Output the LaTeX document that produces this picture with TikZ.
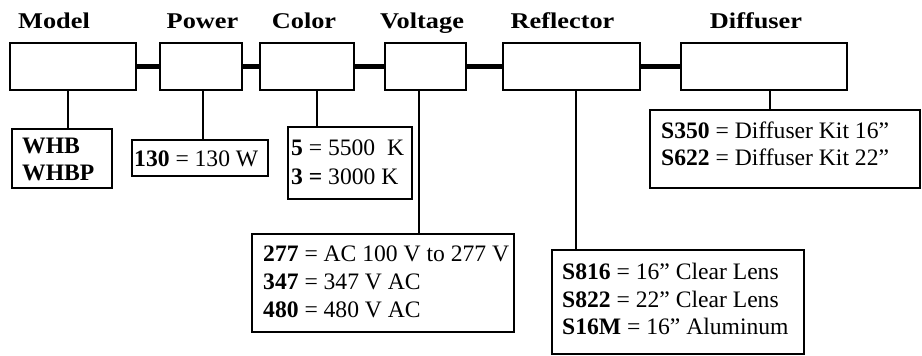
\documentclass[tikz,border=0pt]{standalone}
\usepackage{fontspec}
\usepackage{graphicx}
\setmainfont{Liberation Serif}
\begin{document}
\begin{tikzpicture}[x=1pt,y=-1pt,
  hdr/.style={anchor=base, inner sep=0pt, font=\fontsize{22.5}{26}\selectfont\bfseries},
  slot/.style={draw, line width=1.9pt, anchor=north west, inner sep=0pt, outer sep=0pt},
  codebox/.style={draw, line width=1.9pt, anchor=north west, inner sep=0pt, outer sep=0pt},
  codetxt/.style={anchor=base west, inner sep=0pt, font=\fontsize{23.6}{27}\selectfont},
  link/.style={line width=5pt},
  stem/.style={line width=1.7pt}]
\useasboundingbox (0,0) rectangle (922,356);

% headers
\node[hdr] (hModel) at (54,28) {\scalebox{1.17}[1]{Model}};
\node[hdr] (hPower) at (202.5,28) {\scalebox{1.17}[1]{Power}};
\node[hdr] (hColor) at (304,28) {\scalebox{1.17}[1]{Color}};
\node[hdr] (hVolt) at (422,28) {\scalebox{1.17}[1]{Voltage}};
\node[hdr] (hRefl) at (562.5,28) {\scalebox{1.17}[1]{Reflector}};
\node[hdr] (hDiff) at (756,28) {\scalebox{1.17}[1]{Diffuser}};

% top slots
\node[slot, minimum width=126pt, minimum height=47pt] (bModel) at (10,43) {};
\node[slot, minimum width=82pt, minimum height=47pt] (bPower) at (160,43) {};
\node[slot, minimum width=94pt, minimum height=47pt] (bColor) at (260,43) {};
\node[slot, minimum width=81pt, minimum height=47pt] (bVolt) at (385,43) {};
\node[slot, minimum width=137pt, minimum height=47pt] (bRefl) at (503,43) {};
\node[slot, minimum width=166pt, minimum height=47pt] (bDiff) at (681,43) {};

% links
\draw[link] (bModel.east) -- (bPower.west);
\draw[link] (bPower.east) -- (bColor.west);
\draw[link] (bColor.east) -- (bVolt.west);
\draw[link] (bVolt.east) -- (bRefl.west);
\draw[link] (bRefl.east) -- (bDiff.west);

% code boxes
\node[codebox, minimum width=100pt, minimum height=59pt] (cModel) at (12,129) {};
\node[codebox, minimum width=136pt, minimum height=36pt] (cPower) at (132,140) {};
\node[codebox, minimum width=124pt, minimum height=72pt] (cColor) at (288,127) {};
\node[codebox, minimum width=262pt, minimum height=98pt] (cVolt) at (252,234) {};
\node[codebox, minimum width=252pt, minimum height=104pt] (cRefl) at (552,250) {};
\node[codebox, minimum width=270pt, minimum height=78pt] (cDiff) at (650,110) {};

% stems
\coordinate (sModel) at (68,0);
\coordinate (sPower) at (203,0);
\coordinate (sColor) at (317,0);
\coordinate (sVolt) at (419,0);
\coordinate (sRefl) at (576,0);
\coordinate (sDiff) at (770,0);
\draw[stem] (bModel.south -| sModel) -- (cModel.north -| sModel);
\draw[stem] (bPower.south -| sPower) -- (cPower.north -| sPower);
\draw[stem] (bColor.south -| sColor) -- (cColor.north -| sColor);
\draw[stem] (bVolt.south -| sVolt) -- (cVolt.north -| sVolt);
\draw[stem] (bRefl.south -| sRefl) -- (cRefl.north -| sRefl);
\draw[stem] (bDiff.south -| sDiff) -- (cDiff.north -| sDiff);

% code texts
\node[codetxt] (tM1) at (22,153) {\textbf{WHB}};
\node[codetxt] (tM2) at (22,180) {\textbf{WHBP}};
\node[codetxt] (tP1) at (134,166) {\textbf{130} = 130 W};
\node[codetxt] (tC1) at (291,155) {\textbf{5} = 5500\ \ K};
\node[codetxt] (tC2) at (291,184) {\textbf{3 =} 3000 K};
\node[codetxt] (tV1) at (263,261) {\textbf{277} = AC 100 V to 277 V};
\node[codetxt] (tV2) at (263,289) {\textbf{347} = 347 V AC};
\node[codetxt] (tV3) at (263,317) {\textbf{480} = 480 V AC};
\node[codetxt] (tR1) at (562,279) {\textbf{S816} = 16” Clear Lens};
\node[codetxt] (tR2) at (562,307) {\textbf{S822} = 22” Clear Lens};
\node[codetxt] (tR3) at (562,334) {\textbf{S16M} = 16” Aluminum};
\node[codetxt] (tD1) at (661,138) {\textbf{S350} = Diffuser Kit 16”};
\node[codetxt] (tD2) at (661,165) {\textbf{S622} = Diffuser Kit 22”};
\end{tikzpicture}
\end{document}
